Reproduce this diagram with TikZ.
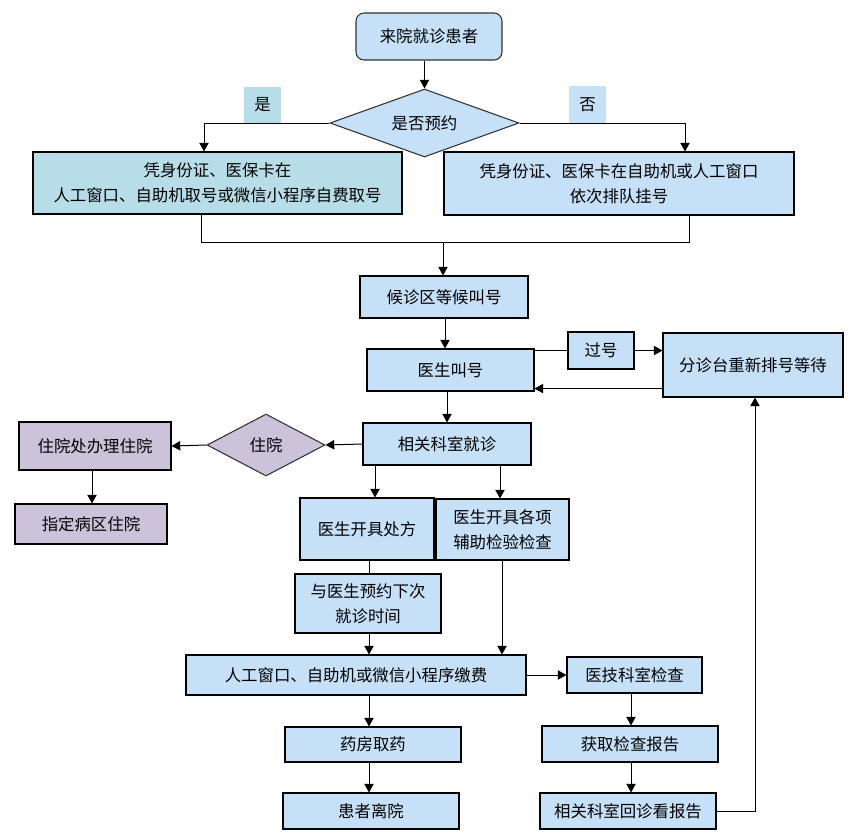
\documentclass[tikz,border=0pt]{standalone}
\usepackage{fontspec}
\setmainfont{Noto Sans CJK SC}
\usetikzlibrary{arrows.meta,shapes.geometric,calc}
\definecolor{bblue}{RGB}{198,224,248}
\definecolor{bteal}{RGB}{183,221,232}
\definecolor{bpurp}{RGB}{204,194,218}
\definecolor{lgrey}{RGB}{50,50,50}
\newcommand{\bx}[7]{\node[#6, minimum width={(#4-#2)*0.75pt}, minimum height={(#5-#3)*0.75pt}] (#1) at ({(#2+#4)/2},{(#3+#5)/2}) {#7};}
\tikzset{
  box/.style={draw=black, line width=0.8pt, fill=bblue, inner sep=0pt, align=center, font=\fontsize{12.3}{18.5}\selectfont},
  tealbox/.style={box, fill=bteal},
  purpbox/.style={box, fill=bpurp},
  startbox/.style={box, rounded corners=6pt, draw=lgrey},
  lbl/.style={fill=#1, inner sep=0pt, font=\fontsize{12.3}{15}\selectfont},
  dia/.style={diamond, draw=lgrey, line width=0.8pt, fill=#1, inner sep=0pt, aspect=2, font=\fontsize{12.3}{15}\selectfont},
  ln/.style={line width=0.75pt, draw=black},
  arr/.style={ln, -{Triangle[length=6.5pt,width=7pt]}},
}
\begin{document}
\begin{tikzpicture}[x=0.75pt,y=-0.75pt]
\useasboundingbox (0,0) rectangle (858,840);
% nodes
\bx{start}{356}{13}{502}{60}{startbox}{来院就诊患者}
\node[dia=bblue, minimum width={189*0.75pt}, minimum height={68*0.75pt}] (q) at (424.5,123) {是否预约};
\bx{yes}{244}{87}{281}{123}{lbl=bteal}{是}
\bx{no}{569}{86}{606}{123}{lbl=bblue}{否}
\bx{b1}{33}{152}{402}{214}{tealbox}{凭身份证、医保卡在\\人工窗口、自助机取号或微信小程序自费取号}
\bx{b2}{444}{152}{794}{215}{box}{凭身份证、医保卡在自助机或人工窗口\\依次排队挂号}
\bx{wait}{360}{276}{528}{318}{box}{候诊区等候叫号}
\bx{call}{367}{349}{534}{391}{box}{医生叫号}
\bx{guo}{568}{332}{634}{369}{box}{过号}
\bx{tri}{663}{333}{843}{397}{box}{分诊台重新排号等待}
\bx{dept}{363}{423}{531}{465}{box}{相关科室就诊}
\node[dia=bpurp, minimum width={118*0.75pt}, minimum height={62*0.75pt}] (zy) at (266,445) {住院};
\bx{hosp}{19}{422}{171}{470}{purpbox}{住院处办理住院}
\bx{ward}{15}{504}{167}{544}{purpbox}{指定病区住院}
\bx{rx}{300}{498}{434}{560}{box}{医生开具处方}
\bx{exam}{436}{499}{569}{560}{box}{医生开具各项\\辅助检验检查}
\bx{appt}{295}{574}{441}{633}{box}{与医生预约下次\\就诊时间}
\bx{pay}{186}{655}{526}{695}{box}{人工窗口、自助机或微信小程序缴费}
\bx{tech}{567}{657}{702}{693}{box}{医技科室检查}
\bx{rep}{542}{726}{718}{762}{box}{获取检查报告}
\bx{back}{540}{793}{716}{829}{box}{相关科室回诊看报告}
\bx{drug}{285}{727}{461}{762}{box}{药房取药}
\bx{leave}{283}{793}{459}{829}{box}{患者离院}
% connectors
\draw[arr] (q.north |- start.south) -- (q.north);
\draw[arr] (q.west) -| (204,0 |- b1.north);
\draw[arr] (q.east) -| (685,0 |- b2.north);
\coordinate (m) at (443,242);
\draw[ln] (201,0 |- b1.south) |- (689,242) -- (689,0 |- b2.south);
\draw[arr] (m) -- (m |- wait.north);
\draw[arr] (445,0 |- wait.south) -- (445,0 |- call.north);
\draw[ln] (guo.west -| call.east) -- (guo.west);
\draw[arr] (guo.east) -- (guo.east -| tri.west);
\coordinate (r) at ($(tri.south west)+(0,-9)$);
\draw[arr] (r) -- (r -| call.east);
\draw[arr] (447,0 |- call.south) -- (447,0 |- dept.north);
\draw[arr] (dept.west) -- (zy.east);
\draw[arr] (zy.west) -- (hosp.east);
\draw[arr] (92,0 |- hosp.south) -- (92,0 |- ward.north);
\draw[arr] (375,0 |- dept.south) -- (375,0 |- rx.north);
\draw[arr] (500,0 |- dept.south) -- (500,0 |- exam.north);
\draw[ln] (369,0 |- rx.south) -- (369,0 |- appt.north);
\draw[arr] (369,0 |- appt.south) -- (369,0 |- pay.north);
\draw[arr] (502,0 |- exam.south) -- (502,0 |- pay.north);
\draw[arr] (pay.east |- tech.west) -- (tech.west);
\draw[arr] (631,0 |- tech.south) -- (631,0 |- rep.north);
\draw[arr] (631,0 |- rep.south) -- (631,0 |- back.north);
\draw[arr] (back.east) -| (755,0 |- tri.south);
\draw[arr] (369,0 |- pay.south) -- (369,0 |- drug.north);
\draw[arr] (369,0 |- drug.south) -- (369,0 |- leave.north);
\end{tikzpicture}
\end{document}
